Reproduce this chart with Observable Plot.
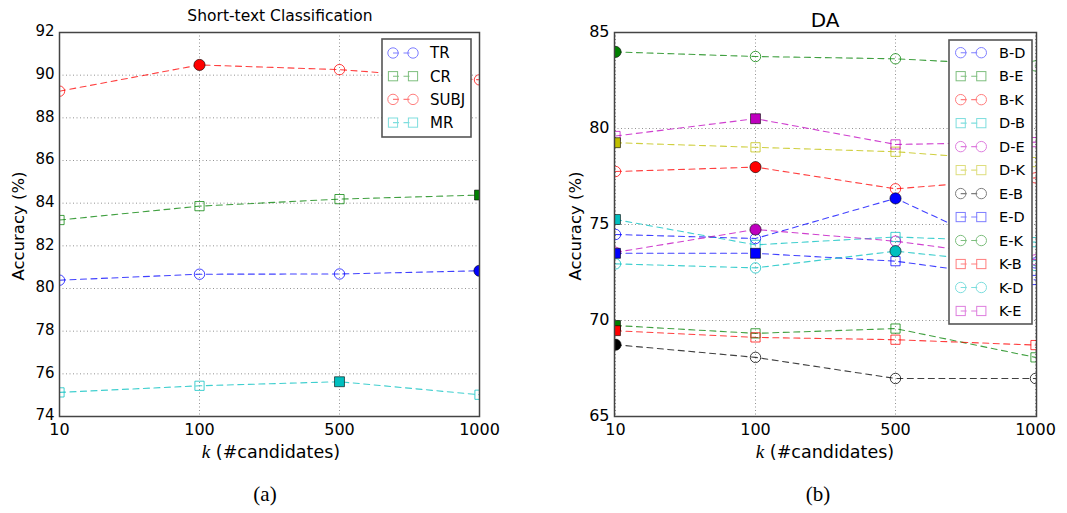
<!DOCTYPE html>
<html><head><meta charset="utf-8">
<script src="https://cdn.jsdelivr.net/npm/d3@7"></script>
<script src="https://cdn.jsdelivr.net/npm/@observablehq/plot@0.6"></script>
<style>
body{margin:0;background:#fff;}
#wrap{position:relative;width:1067px;height:513px;overflow:hidden;background:#fff;font-family:"DejaVu Sans",sans-serif;color:#000;}
.panel{position:absolute;top:0;}
.lbl{position:absolute;white-space:nowrap;transform:translate(-50%,-50%);line-height:1;}
.ylbl{position:absolute;white-space:nowrap;transform:translate(-50%,-50%) rotate(-90deg);line-height:1;}
.ser{font-family:"Liberation Serif","DejaVu Serif",serif;}
</style></head><body><div id="wrap"></div>
<script>
// ---------- data ----------
const kValues = ["10", "100", "500", "1000"];

const stSeries = ["TR", "CR", "SUBJ", "MR"];
const stTR   = [80.39, 80.67, 80.68, 80.83];
const stCR   = [83.21, 83.86, 84.19, 84.38];
const stSUBJ = [89.25, 90.48, 90.26, 89.78];
const stMR   = [75.13, 75.44, 75.63, 75.02];
const stTicks = [74, 76, 78, 80, 82, 84, 86, 88, 90, 92];

const daSeries = ["B-D", "B-E", "B-K", "D-B", "D-E", "D-K", "E-B", "E-D", "E-K", "K-B", "K-D", "K-E"];
const daBD = [74.48, 74.27, 76.36, 73.00];
const daBE = [69.74, 69.33, 69.58, 68.08];
const daBK = [77.76, 77.99, 76.86, 77.43];
const daDB = [75.26, 73.94, 74.35, 74.08];
const daDE = [73.55, 74.74, 74.13, 73.16];
const daDK = [79.26, 79.02, 78.79, 78.25];
const daEB = [68.74, 68.08, 66.98, 66.98];
const daED = [73.50, 73.50, 73.09, 72.11];
const daEK = [83.99, 83.75, 83.63, 83.26];
const daKB = [69.47, 69.12, 69.00, 68.72];
const daKD = [72.95, 72.74, 73.61, 72.86];
const daKE = [79.61, 80.51, 79.17, 79.29];
const daTicks = [65, 70, 75, 80, 85];

// ---------- styles ----------
const C = {b: "#0000ff", g: "#008000", r: "#ff0000", c: "#00bfbf", m: "#bf00bf", y: "#bfbf00", k: "#000000"};
const stColors = [C.b, C.g, C.r, C.c];
const stSymbols = ["circle", "square", "circle", "square"];
const daColors = [C.b, C.g, C.r, C.c, C.m, C.y, C.k, C.b, C.g, C.r, C.c, C.m];
const daSymbols = ["circle", "square", "circle", "square", "circle", "square", "circle", "square", "circle", "square", "circle", "square"];

function buildRows(names, lists) {
  const rows = [];
  names.forEach((name, i) => {
    const vals = lists[i];
    const mx = d3.max(vals);
    vals.forEach((v, j) => rows.push({series: name, k: kValues[j], acc: v, best: v === mx}));
  });
  return rows;
}

const wrap = document.getElementById("wrap");
function addLabel(html, x, y, size, cls, extra) {
  const d = document.createElement("div");
  d.className = cls || "lbl";
  d.style.left = x + "px"; d.style.top = y + "px"; d.style.fontSize = size + "px";
  if (extra) Object.assign(d.style, extra);
  d.innerHTML = html;
  wrap.appendChild(d);
}

function chart(o) {
  const rows = buildRows(o.names, o.lists);
  const svg = Plot.plot({
    width: o.width, height: o.height,
    marginLeft: o.ml, marginRight: o.mr, marginTop: o.mt, marginBottom: o.mb,
    style: {fontFamily: "DejaVu Sans", fontSize: "15px", background: "transparent", color: "#000", overflow: "visible"},
    x: {type: "point", domain: kValues, padding: 0},
    y: {domain: o.yDomain},
    color: {domain: o.names, range: o.colors},
    symbol: {domain: o.names, range: o.symbols},
    marks: [
      Plot.ruleY(o.yTicks, {stroke: "#777", strokeWidth: 0.8, strokeDasharray: "1,2.5"}),
      Plot.ruleX(kValues, {x: d => d, stroke: "#777", strokeWidth: 0.8, strokeDasharray: "1,2.5"}),
      Plot.line(rows, {x: "k", y: "acc", z: "series", stroke: "series", strokeWidth: 1.1, strokeOpacity: 0.75, strokeDasharray: "6,4.5", clip: true}),
      Plot.dot(rows.filter(d => !d.best), {x: "k", y: "acc", symbol: "series", stroke: "series", fill: "none", r: 5.2, strokeWidth: 1, strokeOpacity: 0.75, clip: true}),
      Plot.dot(rows.filter(d => d.best), {x: "k", y: "acc", symbol: "series", fill: "series", stroke: "#000", strokeOpacity: 0.6, r: 5.6, strokeWidth: 1, clip: true}),
      Plot.axisY({ticks: o.yTicks, tickSize: 0, tickPadding: 5, fontSize: o.yFont, dy: -1, label: null}),
      Plot.axisX({tickSize: 0, tickPadding: 7, fontSize: 16, label: null}),
      Plot.frame({stroke: "#444", strokeWidth: 1.5})
    ]
  });
  // legend (drawn from the series names, styled like matplotlib's)
  const L = o.legend;
  const g = d3.select(svg).append("g").attr("text-anchor", "start");
  g.append("rect").attr("x", L.x).attr("y", L.y).attr("width", L.w).attr("height", L.h)
    .attr("fill", "#fff").attr("stroke", "#555").attr("stroke-width", 1.6);
  o.names.forEach((name, i) => {
    const cy = L.row0 + i * L.dy;
    const col = o.colors[i];
    const row = g.append("g").attr("opacity", 0.5);
    row.append("line").attr("x1", L.m1).attr("x2", L.m2).attr("y1", cy).attr("y2", cy)
      .attr("stroke", col).attr("stroke-width", 1.1).attr("stroke-dasharray", "6,4.5");
    [L.m1, L.m2].forEach(mx => {
      if (o.symbols[i] === "circle") {
        row.append("circle").attr("cx", mx).attr("cy", cy).attr("r", 5.2).attr("fill", "none").attr("stroke", col);
      } else {
        row.append("rect").attr("x", mx - 4.6).attr("y", cy - 4.6).attr("width", 9.2).attr("height", 9.2).attr("fill", "none").attr("stroke", col);
      }
    });
    g.append("text").attr("x", L.tx).attr("y", cy).attr("dy", "0.36em").attr("font-size", L.font)
      .attr("text-anchor", "start").attr("fill", "#000").text(name);
  });
  const div = document.createElement("div");
  div.className = "panel";
  div.style.left = o.left + "px";
  div.appendChild(svg);
  wrap.appendChild(div);
}

// left panel
chart({
  left: 0, width: 530, height: 450, ml: 59, mr: 51, mt: 32, mb: 34,
  yDomain: [74, 92], yTicks: stTicks, yFont: 15,
  names: stSeries, lists: [stTR, stCR, stSUBJ, stMR], colors: stColors, symbols: stSymbols,
  legend: {x: 382, y: 39, w: 89, h: 98, row0: 53, dy: 23.2, m1: 393, m2: 413, tx: 430, font: 15}
});
// right panel
chart({
  left: 540, width: 527, height: 450, ml: 74, mr: 31, mt: 32, mb: 34,
  yDomain: [65, 85], yTicks: daTicks, yFont: 16,
  names: daSeries, lists: [daBD, daBE, daBK, daDB, daDE, daDK, daEB, daED, daEK, daKB, daKD, daKE],
  colors: daColors, symbols: daSymbols,
  legend: {x: 409, y: 40, w: 83, h: 284, row0: 52.7, dy: 23.48, m1: 420.7, m2: 441.3, tx: 459, font: 14.5}
});

// titles, axis labels, captions
addLabel("Short-text Classification", 280, 17, 15.5);
addLabel("DA", 825, 20, 20);
addLabel("Accuracy (%)", 19, 226, 16.5, "ylbl");
addLabel("Accuracy (%)", 576, 226, 16.5, "ylbl");
addLabel('<i class="ser" style="font-size:19px">k</i> (#candidates)', 271, 452, 17.5);
addLabel('<i class="ser" style="font-size:19px">k</i> (#candidates)', 825, 452, 17.5);
addLabel("(a)", 265, 494, 21, "lbl ser");
addLabel("(b)", 818, 494, 21, "lbl ser");
</script></body></html>
